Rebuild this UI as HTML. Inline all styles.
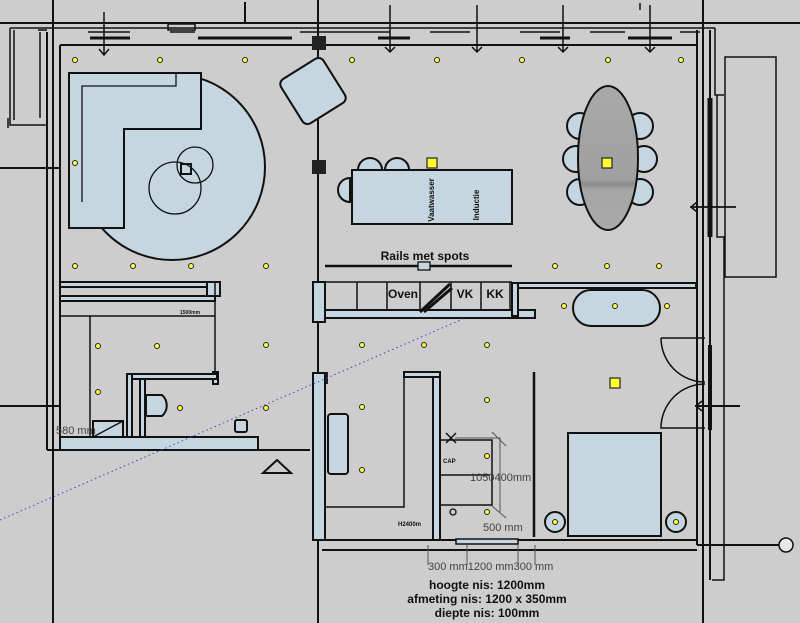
<!DOCTYPE html>
<html><head><meta charset="utf-8"><style>
html,body{margin:0;padding:0;background:#cdcdcd;}
svg{display:block;font-family:"Liberation Sans",sans-serif;}
</style></head><body>
<svg width="800" height="623" viewBox="0 0 800 623" xmlns="http://www.w3.org/2000/svg">
<rect width="800" height="623" fill="#cdcdcd"/>
<g stroke="#111" fill="none" stroke-width="2">
<line x1="53" y1="0" x2="53" y2="623"/>
<line x1="318" y1="0" x2="318" y2="623"/>
<line x1="703" y1="0" x2="703" y2="623"/>
<line x1="245" y1="2" x2="245" y2="22"/>
<line x1="0" y1="168" x2="60" y2="168"/>
<line x1="0" y1="406" x2="60" y2="406"/>
<line x1="695" y1="406" x2="740" y2="406"/>
<line x1="697" y1="545" x2="780" y2="545"/>
<line x1="690" y1="207" x2="736" y2="207" stroke-width="1.5"/>
<line x1="0" y1="23" x2="800" y2="23"/>
<line x1="10" y1="28" x2="715" y2="28" stroke-width="1.5"/>
<line x1="60" y1="45" x2="697" y2="45"/>
<path d="M88 32H130M170 32H195M300 32H390M430 32H470M520 32H560M590 32H625M680 32H700" stroke-width="1.5"/>
<path d="M90 38H130M198 38H292M378 38H410M540 38H570M628 38H672" stroke-width="3"/>
<rect x="168" y="24" width="27" height="6" stroke-width="1.5"/>
<g stroke-width="1.5">
<path d="M104 12V55M99 49L104 55L109 49"/>
<path d="M390 5V52M385 47L390 52L395 47"/>
<path d="M477 5V52M472 47L477 52L482 47"/>
<path d="M563 5V52M558 47L563 52L568 47"/>
<path d="M650 5V52M645 47L650 52L655 47"/>
<path d="M640 3V10"/>
</g>
<line x1="47" y1="32" x2="47" y2="450"/>
<line x1="60" y1="45" x2="60" y2="445"/>
<path d="M10 28V125H47M14 30V120M40 32V118M8 118V128M38 30H47" stroke-width="1.5"/>
<line x1="47" y1="450" x2="310" y2="450"/>
<line x1="697" y1="30" x2="697" y2="545"/>
<line x1="710" y1="30" x2="710" y2="580"/>
<path d="M715 28V95H724M717 95V237H724V580H712" stroke-width="1.5"/>
<rect x="725" y="57" width="51" height="220" stroke-width="1.5"/>
<path d="M710 98V237" stroke-width="5"/>
<path d="M710 345V430" stroke-width="4"/>
<line x1="318" y1="540" x2="697" y2="540"/>
<line x1="322" y1="550" x2="697" y2="550"/>
<rect x="456" y="539" width="62" height="5" fill="#c5d6e0" stroke-width="1.5"/>
</g>
<circle cx="786" cy="545" r="7" fill="#e8e8e8" stroke="#111" stroke-width="1.5"/>
<g fill="#222"><rect x="312" y="36" width="14" height="14"/><rect x="312" y="160" width="14" height="14"/><rect x="312" y="372" width="16" height="12"/></g>
<g fill="#c5d6e0" stroke="#111" stroke-width="2">
<circle cx="172" cy="167" r="93"/>
<path d="M69 73H201V129H124V228H69Z"/>
<rect x="288" y="65" width="50" height="52" rx="6" transform="rotate(-32 313 91)"/>
<path d="M358 170A12 12 0 0 1 382 170Z"/>
<path d="M385 170A12 12 0 0 1 409 170Z"/>
<path d="M350 178A12 12 0 0 0 350 202Z"/>
<rect x="352" y="170" width="160" height="54"/>
<circle cx="580" cy="126" r="13"/><circle cx="576" cy="159" r="13"/><circle cx="580" cy="192" r="13"/>
<circle cx="640" cy="126" r="13"/><circle cx="644" cy="159" r="13"/><circle cx="640" cy="192" r="13"/>
<rect x="313" y="282" width="12" height="40"/>
<rect x="325" y="310" width="210" height="8"/>
<rect x="512" y="283" width="6" height="33"/>
<rect x="518" y="283" width="178" height="5"/>
<rect x="573" y="290" width="87" height="36" rx="18"/>
<rect x="60" y="282" width="160" height="5"/>
<rect x="60" y="296" width="155" height="5"/>
<rect x="207" y="282" width="13" height="14"/>
<rect x="213" y="372" width="5" height="12"/>
<rect x="127" y="374" width="90" height="5"/>
<rect x="127" y="374" width="5" height="63"/>
<rect x="140" y="379" width="5" height="58"/>
<rect x="60" y="437" width="198" height="13"/>
<path d="M146 395H162A14 14 0 0 1 162 416H146Z"/>
<rect x="93" y="421" width="30" height="16"/>
<rect x="235" y="420" width="12" height="12" rx="2"/>
<rect x="313" y="373" width="12" height="167"/>
<rect x="328" y="414" width="20" height="60" rx="3"/>
<rect x="404" y="372" width="36" height="5"/>
<rect x="433" y="377" width="7" height="163"/>
<rect x="568" y="433" width="93" height="103"/>
<circle cx="555" cy="522" r="10"/><circle cx="676" cy="522" r="10"/>
</g>
<defs><linearGradient id="g" x1="0" y1="0" x2="0" y2="1"><stop offset="0" stop-color="#a9a9a9"/><stop offset="0.65" stop-color="#a0a0a0"/><stop offset="0.68" stop-color="#8a8a8a"/><stop offset="0.72" stop-color="#a5a5a5"/><stop offset="1" stop-color="#aaa"/></linearGradient></defs>
<ellipse cx="608" cy="158" rx="30" ry="72" fill="url(#g)" stroke="#111" stroke-width="2"/>
<g stroke="#111" fill="none" stroke-width="1.3">
<circle cx="195" cy="165" r="18"/><circle cx="175" cy="188" r="26"/>
<rect x="181" y="164" width="10" height="10" stroke-width="2"/>
<path d="M82 202V86H176V73"/>
<path d="M357 282V310M387 282V310M420 282V310M451 282V310M481 282V310M510 282V310M325 282H512" stroke-width="1.5"/>
<path d="M420 312L450 284M424 312L452 288" stroke-width="3"/>
<line x1="325" y1="266" x2="512" y2="266" stroke-width="2.5"/>
<rect x="418" y="262" width="12" height="8" fill="#c5d6e0"/>
<path d="M60 316H215V282M90 316V437M215 316V372M404 377V507H325M440 440H492V505H440M440 475H490M440 505H460" stroke-width="1.5"/>
<path d="M534 372V537" stroke-width="2.5"/>
<path d="M93 437L123 421"/>
<path d="M455 438H500V512M492 432L506 446M492 506L506 518M428 545V565M467 545V565M518 545V565M535 545V565" stroke="#555" stroke-width="1"/>
<path d="M446 433L456 443M456 433L446 443" stroke-width="1.5"/>
<circle cx="453" cy="512" r="3"/>
<path d="M661 338H705M661 338A44 44 0 0 0 705 382M705 384A44 44 0 0 0 661 428H705" stroke-width="1.5"/>
<path d="M740 406H696M702 401L696 406L702 411" stroke-width="1.5"/>
<path d="M736 207H691M697 202L691 207L697 212" stroke-width="1.5"/>
<path d="M263 473L277 460L291 473Z" stroke-width="2"/>
</g>
<line x1="0" y1="520" x2="465" y2="318" stroke="#4444cc" stroke-width="1" stroke-dasharray="1.5,3"/>
<g fill="#ffff33" stroke="#222" stroke-width="1.2">
<rect x="427" y="158" width="10" height="10"/><rect x="602" y="158" width="10" height="10"/><rect x="610" y="378" width="10" height="10"/>
</g>
<g fill="#ffff44" stroke="#222" stroke-width="1">
<circle cx="75" cy="60" r="2.5"/><circle cx="160" cy="60" r="2.5"/><circle cx="245" cy="60" r="2.5"/><circle cx="352" cy="60" r="2.5"/><circle cx="437" cy="60" r="2.5"/><circle cx="522" cy="60" r="2.5"/><circle cx="608" cy="60" r="2.5"/><circle cx="681" cy="60" r="2.5"/>
<circle cx="75" cy="163" r="2.5"/>
<circle cx="75" cy="266" r="2.5"/><circle cx="133" cy="266" r="2.5"/><circle cx="191" cy="266" r="2.5"/><circle cx="266" cy="266" r="2.5"/><circle cx="555" cy="266" r="2.5"/><circle cx="607" cy="266" r="2.5"/><circle cx="659" cy="266" r="2.5"/>
<circle cx="564" cy="306" r="2.5"/><circle cx="615" cy="306" r="2.5"/><circle cx="667" cy="306" r="2.5"/>
<circle cx="98" cy="346" r="2.5"/><circle cx="157" cy="346" r="2.5"/><circle cx="266" cy="345" r="2.5"/><circle cx="98" cy="392" r="2.5"/><circle cx="180" cy="408" r="2.5"/><circle cx="266" cy="408" r="2.5"/>
<circle cx="362" cy="345" r="2.5"/><circle cx="424" cy="345" r="2.5"/><circle cx="487" cy="345" r="2.5"/><circle cx="362" cy="407" r="2.5"/><circle cx="487" cy="400" r="2.5"/><circle cx="362" cy="470" r="2.5"/><circle cx="487" cy="456" r="2.5"/><circle cx="487" cy="512" r="2.5"/>
<circle cx="555" cy="522" r="2.5"/><circle cx="676" cy="522" r="2.5"/>
</g>
<g fill="#111" font-weight="bold">
<text x="425" y="260" font-size="12" text-anchor="middle">Rails met spots</text>
<text x="403" y="298" font-size="12" text-anchor="middle">Oven</text>
<text x="465" y="298" font-size="12" text-anchor="middle">VK</text>
<text x="495" y="298" font-size="12" text-anchor="middle">KK</text>
<text x="487" y="589" font-size="12" text-anchor="middle">hoogte nis: 1200mm</text>
<text x="487" y="603" font-size="12" text-anchor="middle">afmeting nis: 1200 x 350mm</text>
<text x="487" y="617" font-size="12" text-anchor="middle">diepte nis: 100mm</text>
<text x="434" y="200" font-size="8" text-anchor="middle" transform="rotate(-90 434 200)">Vaatwasser</text>
<text x="479" y="205" font-size="8" text-anchor="middle" transform="rotate(-90 479 205)">Inductie</text>
<text x="398" y="526" font-size="6">H2400m</text>
<text x="180" y="314" font-size="5">1500mm</text>
<text x="443" y="463" font-size="6">CAP</text>
</g>
<g fill="#444" font-size="11">
<text x="470" y="481">1050400mm</text>
<text x="483" y="531">500 mm</text>
<text x="428" y="570">300 mm1200 mm300 mm</text>
<text x="56" y="434">580 mm</text>
</g>
</svg>
</body></html>
